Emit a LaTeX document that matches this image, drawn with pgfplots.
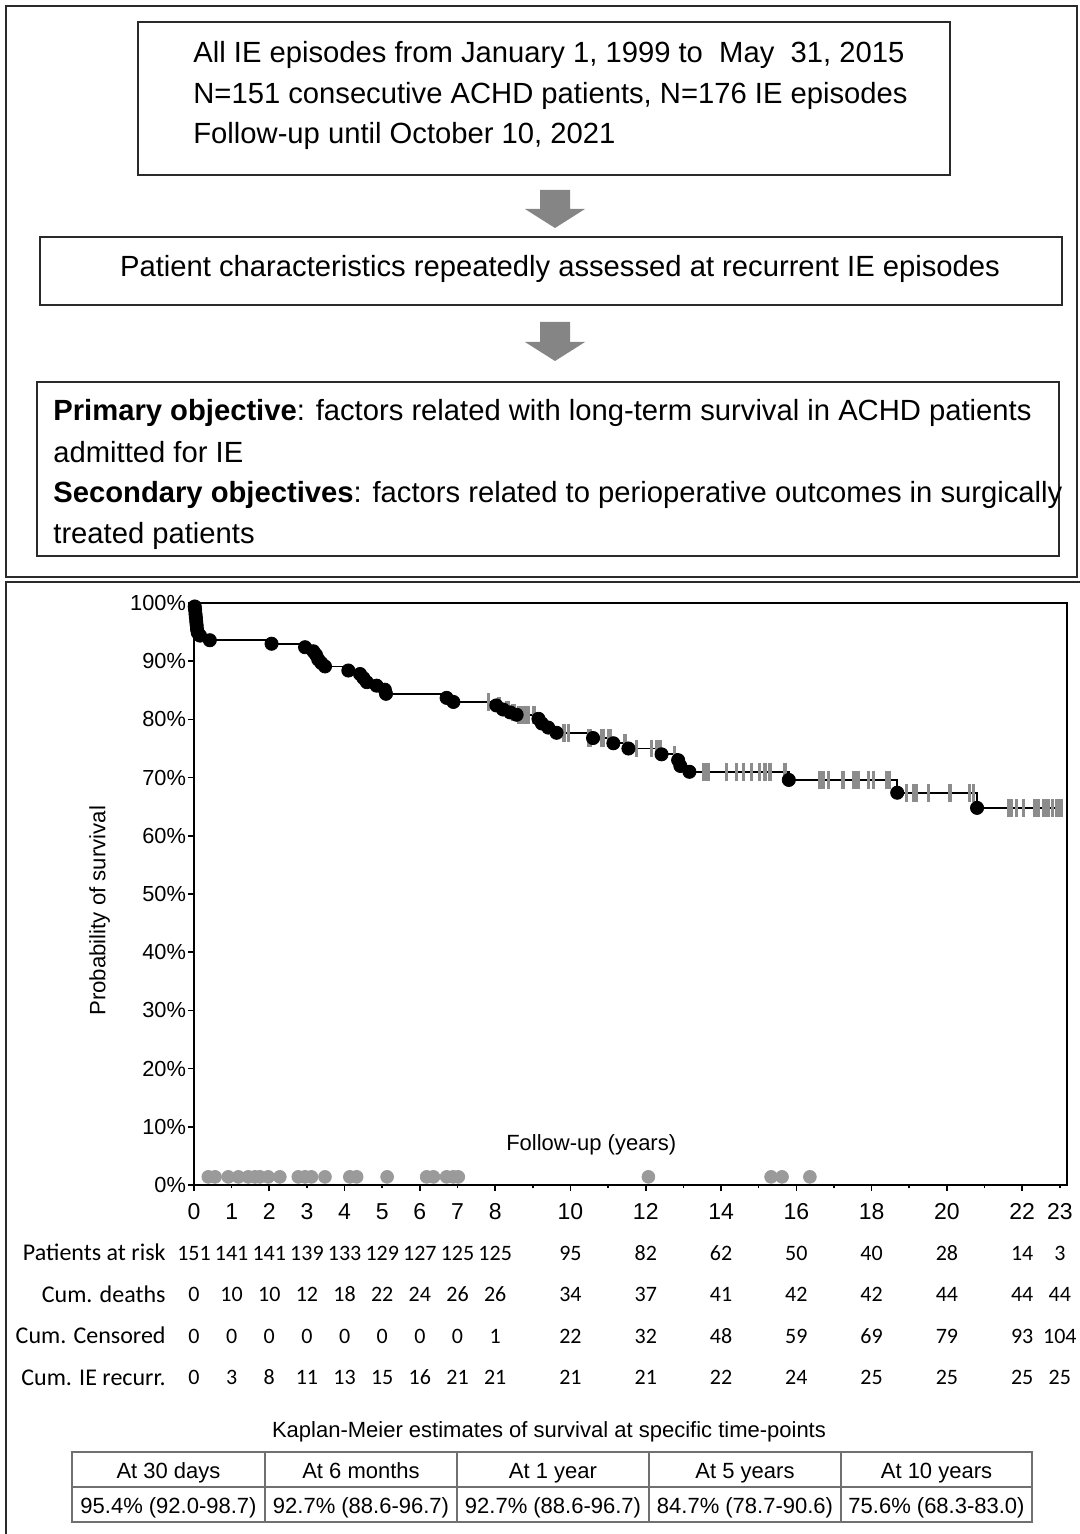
\documentclass[border=0pt]{standalone}
\usepackage{pgfplots}
\pgfplotsset{compat=1.18}
\usepackage{fontspec}
\setmainfont{Liberation Sans}
\newfontfamily\calibri{Carlito}
\definecolor{cens}{HTML}{8C8C8C}
\definecolor{iedot}{HTML}{9A9A9A}
\definecolor{frame}{HTML}{2A2A2A}
\definecolor{arrowgray}{HTML}{858585}
\definecolor{tabline}{HTML}{707070}

\begin{document}
\begin{tikzpicture}
\begin{scope}[x=0.5pt,y=-0.5pt]
\useasboundingbox (0,0) rectangle (1079,1534);
% outer panels
\draw[frame, line width=1pt] (6,6) rectangle (1077,577);
\draw[frame, line width=1pt] (6,1540) -- (6,582) -- (1080,582);
% box 1
\draw[frame, line width=1pt] (138,22) rectangle (950,175);
\begin{scope}[every node/.style={anchor=base west, inner sep=0pt, font=\fontsize{14.6}{17}\selectfont}]
\node at (193,63) {All IE episodes from January 1, 1999 to\ \ May\ \ 31, 2015};
\node at (193,104) {N=151 consecutive ACHD patients, N=176 IE episodes};
\node at (193,144) {Follow-up until October 10, 2021};
\end{scope}
% arrow 1
\fill[arrowgray] (540,190) -- (570,190) -- (570,209) -- (585,209) -- (555,228) -- (525,209) -- (540,209) -- cycle;
% box 2
\draw[frame, line width=1pt] (40,237) rectangle (1062,305);
\node[anchor=base, inner sep=0pt, font=\fontsize{14.6}{17}\selectfont] at (560,277) {Patient characteristics repeatedly assessed at recurrent IE episodes};
% arrow 2
\fill[arrowgray] (540,322) -- (570,322) -- (570,342) -- (585,342) -- (555,361) -- (525,342) -- (540,342) -- cycle;
% box 3
\draw[frame, line width=1pt] (37,382) rectangle (1059,556);
\begin{scope}[every node/.style={anchor=base west, inner sep=0pt, font=\fontsize{14.6}{17}\selectfont}]
\node at (53,421) {\textbf{Primary objective}: factors related with long-term survival in ACHD patients};
\node at (53,462) {admitted for IE};
\node at (53,502) {\textbf{Secondary objectives}: factors related to perioperative outcomes in surgically};
\node at (53,543) {treated patients};
\end{scope}
% risk table row labels
\begin{scope}[every node/.style={anchor=base east, inner sep=0pt, font=\calibri\fontsize{12}{14}\selectfont}]
\node at (166,1260) {Patients at risk};
\node at (166,1302) {Cum. deaths};
\node at (166,1343) {Cum. Censored};
\node at (166,1385) {Cum. IE recurr.};
\end{scope}
% KM estimates table
\node[anchor=base, inner sep=0pt, font=\fontsize{11}{13}\selectfont] at (549,1437) {Kaplan-Meier estimates of survival at specific time-points};
\draw[tabline, line width=0.6pt] (72,1452) rectangle (1032,1522);
\draw[tabline, line width=0.6pt] (72,1487) -- (1032,1487);
\foreach \xx in {265,457,649,841} \draw[tabline, line width=0.6pt] (\xx,1452) -- (\xx,1522);
\begin{scope}[every node/.style={anchor=base, inner sep=0pt, font=\fontsize{11}{13}\selectfont}]
\node at (168.5,1478) {At 30 days};
\node at (361,1478) {At 6 months};
\node at (553,1478) {At 1 year};
\node at (745,1478) {At 5 years};
\node at (936.5,1478) {At 10 years};
\node at (168.5,1513) {95.4\% (92.0-98.7)};
\node at (361,1513) {92.7\% (88.6-96.7)};
\node at (553,1513) {92.7\% (88.6-96.7)};
\node at (745,1513) {84.7\% (78.7-90.6)};
\node at (936.5,1513) {75.6\% (68.3-83.0)};
\end{scope}
\end{scope}

\begin{axis}[
  at={(97pt,-301.5pt)}, anchor=north west,
  scale only axis, width=436.5pt, height=291pt,
  xmin=0, xmax=23.19, ymin=0, ymax=100,
  clip=false,
  axis line style={line width=1pt},
  tick align=outside,
  xtick pos=bottom, ytick pos=left,
  major tick length=3pt, minor tick length=1.6pt,
  tick style={black, line width=0.8pt},
  xtick={0,2,...,22},
  minor xtick={1,3,...,23},
  extra x ticks={1,3,5,7,23},
  extra x tick style={tick style={draw=none}},
  ytick={0,10,...,100},
  yticklabel={\pgfmathprintnumber{\tick}\%},
  /pgf/number format/assume math mode=true,
  xticklabel style={font=\fontsize{11.5}{13}\selectfont, anchor=north, text height=8.3pt, text depth=0pt, yshift=-2.5pt},
  yticklabel style={font=\fontsize{10.9}{12}\selectfont, xshift=2.5pt},
  ylabel={Probability of survival},
  ylabel style={at={(axis description cs:-0.108,0.471)}, anchor=center, font=\fontsize{11.1}{13}\selectfont},
  xlabel={Follow-up (years)},
  xlabel style={at={(axis description cs:0.455,0.060)}, anchor=base, font=\fontsize{11}{13}\selectfont},
]
% KM step curve
\addplot[const plot, black, line width=0.9pt, mark=none] coordinates {
(0,100) (0.02,99.4) (0.03,98.8) (0.04,98.1) (0.05,97.5) (0.06,96.8) (0.07,96.2) (0.08,95.5) (0.10,94.9) (0.16,94.4) (0.42,93.6)
(2.06,93.0) (2.95,92.4) (3.17,91.7) (3.24,91.1) (3.30,90.3) (3.38,89.7) (3.48,89.1)
(4.10,88.4) (4.41,87.8) (4.50,87.1) (4.59,86.4) (4.85,85.8) (5.07,85.1) (5.10,84.4)
(6.71,83.7) (6.89,83.0) (8.03,82.4) (8.21,81.7) (8.40,81.2) (8.57,80.8)
(9.15,80.1) (9.24,79.3) (9.41,78.6) (9.63,77.7) (10.60,76.8) (11.14,75.9) (11.54,75.0)
(12.42,74.0) (12.86,73.0) (12.92,72.0) (13.16,71.0) (15.80,69.6) (18.68,67.4) (20.80,64.8) (23.05,64.8)
};
% censored
\addplot[only marks, mark=|, mark size=4.4pt, mark options={cens, line width=1.6pt}] coordinates {
(7.82,83.0) (8.08,82.4) (8.12,82.4) (8.30,81.7) (8.35,81.7) (8.45,81.2) (8.50,81.2)
(8.62,80.8) (8.66,80.8) (8.75,80.8) (8.80,80.8) (8.88,80.8) (9.01,80.8) (9.05,80.8)
(9.81,77.7) (9.85,77.7) (9.94,77.7) (10.48,76.8) (10.52,76.8)
(10.83,76.8) (10.88,76.8) (11.00,76.8) (11.05,76.8) (11.45,75.9) (11.76,75.0)
(12.16,75.0) (12.29,75.0) (12.38,75.0) (12.77,74.0)
(13.53,71.0) (13.62,71.0) (13.66,71.0) (14.14,71.0) (14.41,71.0) (14.59,71.0) (14.81,71.0)
(15.03,71.0) (15.17,71.0) (15.30,71.0) (15.70,71.0)
(16.63,69.6) (16.71,69.6) (16.85,69.6) (17.24,69.6) (17.51,69.6) (17.60,69.6) (17.64,69.6)
(17.91,69.6) (18.04,69.6) (18.39,69.6) (18.48,69.6)
(18.93,67.4) (19.11,67.4) (19.19,67.4) (19.50,67.4) (20.08,67.4) (20.61,67.4) (20.70,67.4)
(21.63,64.8) (21.71,64.8) (21.85,64.8) (22.03,64.8) (22.34,64.8) (22.43,64.8) (22.56,64.8)
(22.65,64.8) (22.70,64.8) (22.80,64.8) (22.90,64.8) (22.98,64.8) (23.05,64.8)
};
% deaths
\addplot[only marks, mark=*, mark size=3.3pt, black] coordinates {
(0.02,99.4) (0.03,98.8) (0.04,98.1) (0.05,97.5) (0.06,96.8) (0.07,96.2) (0.08,95.5) (0.10,94.9) (0.16,94.4) (0.42,93.6)
(2.06,93.0) (2.95,92.4) (3.17,91.7) (3.24,91.1) (3.30,90.3) (3.38,89.7) (3.48,89.1)
(4.10,88.4) (4.41,87.8) (4.50,87.1) (4.59,86.4) (4.85,85.8) (5.07,85.1) (5.10,84.4)
(6.71,83.7) (6.89,83.0) (8.03,82.4) (8.21,81.7) (8.40,81.2) (8.57,80.8)
(9.15,80.1) (9.24,79.3) (9.41,78.6) (9.63,77.7) (10.60,76.8) (11.14,75.9) (11.54,75.0)
(12.42,74.0) (12.86,73.0) (12.92,72.0) (13.16,71.0) (15.80,69.6) (18.68,67.4) (20.80,64.8)
};
% IE recurrences
\addplot[only marks, mark=*, mark size=3.2pt, iedot, mark options={draw=iedot, fill=iedot}] coordinates {
(0.38,1.4) (0.56,1.4) (0.91,1.4) (1.18,1.4) (1.44,1.4) (1.62,1.4) (1.75,1.4) (1.97,1.4)
(2.28,1.4) (2.77,1.4) (2.95,1.4) (3.12,1.4) (3.48,1.4) (4.14,1.4) (4.32,1.4) (5.13,1.4)
(6.18,1.4) (6.36,1.4) (6.71,1.4) (6.89,1.4) (7.02,1.4) (12.07,1.4) (15.33,1.4) (15.62,1.4) (16.36,1.4)
};
% risk table numbers
\pgfplotsset{riskrow/.style={only marks, mark=none, nodes near coords, point meta=explicit symbolic,
  nodes near coords style={anchor=base, inner sep=0pt, black, font=\calibri\fontsize{11}{13}\selectfont}}}
\addplot[riskrow] coordinates {
(0,-12.89)[151] (1,-12.89)[141] (2,-12.89)[141] (3,-12.89)[139] (4,-12.89)[133] (5,-12.89)[129] (6,-12.89)[127] (7,-12.89)[125] (8,-12.89)[125]
(10,-12.89)[95] (12,-12.89)[82] (14,-12.89)[62] (16,-12.89)[50] (18,-12.89)[40] (20,-12.89)[28] (22,-12.89)[14] (23,-12.89)[3]
};
\addplot[riskrow] coordinates {
(0,-20.10)[0] (1,-20.10)[10] (2,-20.10)[10] (3,-20.10)[12] (4,-20.10)[18] (5,-20.10)[22] (6,-20.10)[24] (7,-20.10)[26] (8,-20.10)[26]
(10,-20.10)[34] (12,-20.10)[37] (14,-20.10)[41] (16,-20.10)[42] (18,-20.10)[42] (20,-20.10)[44] (22,-20.10)[44] (23,-20.10)[44]
};
\addplot[riskrow] coordinates {
(0,-27.15)[0] (1,-27.15)[0] (2,-27.15)[0] (3,-27.15)[0] (4,-27.15)[0] (5,-27.15)[0] (6,-27.15)[0] (7,-27.15)[0] (8,-27.15)[1]
(10,-27.15)[22] (12,-27.15)[32] (14,-27.15)[48] (16,-27.15)[59] (18,-27.15)[69] (20,-27.15)[79] (22,-27.15)[93] (23,-27.15)[104]
};
\addplot[riskrow] coordinates {
(0,-34.36)[0] (1,-34.36)[3] (2,-34.36)[8] (3,-34.36)[11] (4,-34.36)[13] (5,-34.36)[15] (6,-34.36)[16] (7,-34.36)[21] (8,-34.36)[21]
(10,-34.36)[21] (12,-34.36)[21] (14,-34.36)[22] (16,-34.36)[24] (18,-34.36)[25] (20,-34.36)[25] (22,-34.36)[25] (23,-34.36)[25]
};
\end{axis}
\end{tikzpicture}
\end{document}
